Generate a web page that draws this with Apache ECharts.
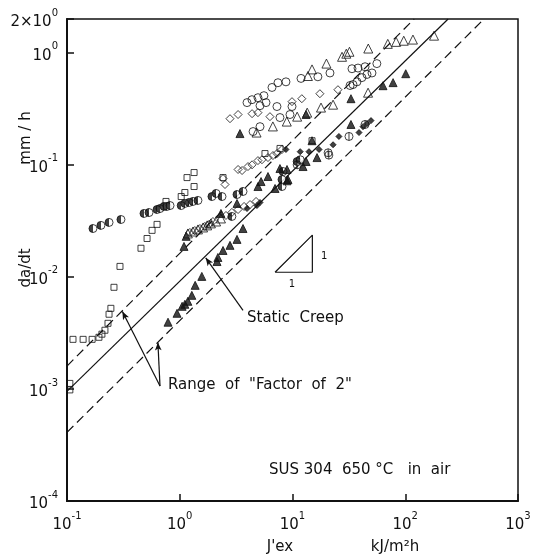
<!DOCTYPE html>
<html>
<head>
<meta charset="utf-8">
<title>da/dt vs J'ex - SUS 304</title>
<script src="https://cdn.jsdelivr.net/npm/echarts@6/dist/echarts.min.js"></script>
<style>
html, body { margin: 0; padding: 0; background: #fff; }
#chart { width: 536px; height: 557px; }
</style>
</head>
<body>
<div id="chart"></div>
<script>
// values: [J'ex (kJ/m2h), da/dt (mm/h)]
const openSquares = [
  [0.106, 0.00112], [0.106, 0.00098],
  [0.113, 0.00277], [0.139, 0.00277], [0.167, 0.00277], [0.192, 0.00289], [0.204, 0.00308],
  [0.217, 0.00334], [0.231, 0.00385], [0.236, 0.00464], [0.245, 0.00524], [0.261, 0.00807], [0.295, 0.0124],
  [0.453, 0.0180], [0.513, 0.0220], [0.568, 0.0260], [0.629, 0.0294], [0.755, 0.0471], [1.03, 0.0521],
  [1.11, 0.0566], [1.34, 0.064], [1.16, 0.0769], [1.34, 0.0853], [2.42, 0.0769], [5.7, 0.126],
  [7.75, 0.140], [14.9, 0.164]
];
const halfCircles = [
  [0.170, 0.0270], [0.200, 0.0288], [0.236, 0.0306], [0.301, 0.0325],
  [0.482, 0.0368], [0.534, 0.0375], [0.629, 0.0399], [0.668, 0.0407], [0.725, 0.0425], [0.771, 0.0425], [0.820, 0.0433],
  [1.03, 0.0433], [1.11, 0.0452], [1.21, 0.0461], [1.31, 0.0471], [1.45, 0.0481], [1.93, 0.0521], [2.10, 0.0555],
  [2.37, 0.0521], [3.22, 0.0543], [3.64, 0.0578],
  [2.90, 0.0346], [8.07, 0.064], [8.07, 0.0739], [8.24, 0.0871], [11.0, 0.107], [11.7, 0.111]
];
const openCircles = [
  [56, 0.80], [50.7, 0.66], [45.8, 0.64], [41.3, 0.60], [37.3, 0.55], [34.4, 0.52], [32.4, 0.51],
  [33.7, 0.72], [38.1, 0.73], [44, 0.75],
  [21.5, 0.66], [16.8, 0.61], [11.9, 0.59], [8.75, 0.55], [7.43, 0.54], [6.58, 0.49],
  [3.95, 0.359], [4.37, 0.381], [4.94, 0.397], [5.58, 0.414], [5.15, 0.337], [5.82, 0.359], [7.28, 0.331], [9.9, 0.331],
  [4.47, 0.198], [5.15, 0.219], [7.74, 0.264], [9.5, 0.281]
];
const openTriangles = [
  [180, 1.42], [117, 1.31], [97, 1.28], [83, 1.25], [70, 1.20], [47, 1.09], [32, 1.02], [30, 0.98],
  [27.5, 0.92], [20, 0.80], [14.9, 0.71], [13.7, 0.62],
  [22.9, 0.344], [17.9, 0.324], [13.5, 0.292], [11, 0.269], [8.9, 0.243], [46.8, 0.44], [6.7, 0.22], [4.8, 0.194],
  [1.18, 0.0244], [1.31, 0.0254], [1.45, 0.0265], [1.61, 0.0276], [1.75, 0.0288], [1.89, 0.0300], [2.10, 0.0312], [2.32, 0.0332]
];
const filledTriangles = [
  [0.787, 0.00394], [0.946, 0.00473], [1.05, 0.00546], [1.11, 0.00569], [1.18, 0.00605], [1.28, 0.00684],
  [1.37, 0.0084], [1.57, 0.0101],
  [2.14, 0.0137], [2.18, 0.0149], [2.42, 0.0172], [2.79, 0.0191], [3.22, 0.0216], [3.64, 0.0270],
  [1.09, 0.0187], [1.14, 0.0230], [2.32, 0.0368], [3.22, 0.0452], [3.42, 0.190],
  [4.94, 0.064], [5.26, 0.0709], [6.06, 0.0786], [7.74, 0.0926], [8.94, 0.0908], [8.94, 0.072], [7.0, 0.0615],
  [9.12, 0.0739], [12.4, 0.0965], [13.2, 0.107], [16.5, 0.116], [14.9, 0.164], [33.0, 0.229],
  [33.0, 0.389], [63.5, 0.508], [78, 0.541], [101, 0.650], [13.2, 0.281]
];
const openDiamonds = [
  [2.79, 0.258], [3.29, 0.281], [4.38, 0.286], [4.94, 0.292], [6.31, 0.269], [12.1, 0.389], [17.5, 0.431],
  [25.3, 0.468], [9.9, 0.366],
  [2.42, 0.0754], [2.52, 0.0667], [3.29, 0.0908], [3.57, 0.0889], [4.03, 0.0965], [4.38, 0.100], [4.94, 0.109],
  [5.36, 0.111], [6.06, 0.116], [6.71, 0.121], [7.28, 0.126], [8.07, 0.137],
  [1.23, 0.0249], [1.36, 0.0259], [1.51, 0.0270], [1.67, 0.0282], [1.82, 0.0294], [1.97, 0.0312],
  [2.57, 0.0353], [2.90, 0.0376], [3.29, 0.0399], [3.72, 0.0425], [4.20, 0.0442], [4.75, 0.0471]
];
const smallDiamonds = [
  [3.95, 0.0407], [4.84, 0.0433], [5.15, 0.0461],
  [8.75, 0.137], [11.7, 0.131], [14.0, 0.131], [17.2, 0.137], [22.9, 0.151], [25.8, 0.179],
  [38.9, 0.194], [42.2, 0.219], [45.8, 0.233], [49.7, 0.248]
];
const barCircles = [
  [20.7, 0.128], [21.0, 0.122], [31.7, 0.179], [44.0, 0.229], [11.0, 0.100]
];

// reference lines (end points as drawn)
const staticCreepLine = [[0.1, 0.00095], [240, 2]];
const upperFactorLine = [[0.1, 0.0016], [120, 2]];
const lowerFactorLine = [[0.1, 0.00041], [500, 2]];
// 1:1 slope triangle
const slopeTriangle = [[7, 0.011], [15, 0.011], [15, 0.0236], [7, 0.011]];
// leader lines: [tip, other end]
const creepLeader = [[1.7, 0.0148], [3.64, 0.00503]];
const rangeLeaders = [
  [[0.31, 0.0049], [0.668, 0.00106]],
  [[0.64, 0.0026], [0.668, 0.00106]]
];

const xTicks = [0.1, 1, 10, 100, 1000];
const yTicks = [0.0001, 0.001, 0.01, 0.1, 1, 2];

const FONT = 'DejaVu Sans';
const INK = '#111';

function powLabel(v) {
  if (Math.abs(v - 2) < 0.01) return '{b|2×10}{e|0}';
  const e = Math.round(Math.log10(v));
  return '{b|10}{e|' + e + '}';
}

const labelRich = {
  b: { fontSize: 15, fontFamily: FONT, color: INK, lineHeight: 22, verticalAlign: 'bottom' },
  e: { fontSize: 10, fontFamily: FONT, color: INK, lineHeight: 12, verticalAlign: 'top' }
};

const halfFill = {
  type: 'linear', x: 0, y: 0, x2: 1, y2: 0,
  colorStops: [
    { offset: 0, color: INK }, { offset: 0.5, color: INK },
    { offset: 0.5, color: '#fff' }, { offset: 1, color: '#fff' }
  ]
};

function scatter(name, data, symbol, size, color) {
  return {
    name: name,
    type: 'scatter',
    data: data,
    symbol: symbol,
    symbolSize: size,
    z: 5,
    itemStyle: { color: color, borderColor: INK, borderWidth: 1 },
    emphasis: { disabled: true }
  };
}

function line(name, data, dashed) {
  return {
    name: name,
    type: 'line',
    data: data,
    symbol: 'none',
    silent: true,
    z: 2,
    lineStyle: { color: INK, width: 1.2, type: dashed ? [9, 5] : 'solid' }
  };
}

const chart = echarts.init(document.getElementById('chart'));

chart.setOption({
  animation: false,
  backgroundColor: '#fff',
  grid: {
    left: 67, right: 18, top: 19, bottom: 56,
    show: true, borderColor: INK, borderWidth: 1.5
  },
  xAxis: {
    type: 'log', logBase: 10, min: 0.1, max: 1000,
    axisLine: { show: true, lineStyle: { color: INK, width: 2 } },
    axisTick: { inside: true, length: 7, lineStyle: { color: INK, width: 1.5 }, customValues: xTicks },
    axisLabel: { margin: 10, formatter: powLabel, rich: labelRich, customValues: xTicks },
    splitLine: { show: false },
    minorTick: { show: false }
  },
  yAxis: {
    type: 'log', logBase: 10, min: 0.0001, max: 2,
    axisLine: { show: true, lineStyle: { color: INK, width: 2 } },
    axisTick: { inside: true, length: 7, lineStyle: { color: INK, width: 1.5 }, customValues: yTicks },
    axisLabel: { margin: 9, formatter: powLabel, rich: labelRich, customValues: yTicks },
    splitLine: { show: false }
  },
  series: [
    line('Static Creep', staticCreepLine, false),
    line('Factor of 2 upper', upperFactorLine, true),
    line('Factor of 2 lower', lowerFactorLine, true),
    line('slope', slopeTriangle, false),
    {
      type: 'line', data: [], silent: true,
      markLine: {
        silent: true,
        symbol: ['arrow', 'none'],
        symbolSize: [5, 8],
        label: { show: false },
        lineStyle: { color: INK, width: 1.2, type: 'solid' },
        data: [
          [{ coord: creepLeader[0] }, { coord: creepLeader[1] }],
          [{ coord: rangeLeaders[0][0] }, { coord: rangeLeaders[0][1] }],
          [{ coord: rangeLeaders[1][0] }, { coord: rangeLeaders[1][1] }]
        ]
      }
    },
    scatter('open square', openSquares, 'rect', 6, 'transparent'),
    scatter('half circle', halfCircles, 'circle', 8, halfFill),
    scatter('open circle', openCircles, 'circle', 8, 'transparent'),
    scatter('open triangle', openTriangles, 'triangle', 9, 'transparent'),
    scatter('filled triangle', filledTriangles, 'triangle', 8, INK),
    scatter('open diamond', openDiamonds, 'diamond', 8, 'transparent'),
    scatter('small diamond', smallDiamonds, 'diamond', 6, INK),
    scatter('bar circle', barCircles, 'path://M10,0A10,10 0 1,1 10,20A10,10 0 1,1 10,0ZM10,0L10,20', 8, 'transparent')
  ],
  graphic: [
    { type: 'text', x: 247, y: 318, style: { text: 'Static  Creep', font: '15px "' + FONT + '"', fill: INK, textVerticalAlign: 'middle' } },
    { type: 'text', x: 168, y: 385, style: { text: 'Range  of  "Factor  of  2"', font: '15px "' + FONT + '"', fill: INK, textVerticalAlign: 'middle' } },
    { type: 'text', x: 269, y: 470, style: { text: 'SUS 304  650 °C   in  air', font: '15px "' + FONT + '"', fill: INK, textVerticalAlign: 'middle' } },
    { type: 'text', x: 321, y: 256, style: { text: '1', font: '10px "' + FONT + '"', fill: INK, textVerticalAlign: 'middle' } },
    { type: 'text', x: 292, y: 284, style: { text: '1', font: '10px "' + FONT + '"', fill: INK, textAlign: 'center', textVerticalAlign: 'middle' } },
    { type: 'text', x: 26, y: 138, rotation: Math.PI / 2, style: { text: 'mm / h', font: '15px "' + FONT + '"', fill: INK, textAlign: 'center', textVerticalAlign: 'middle' } },
    { type: 'text', x: 26, y: 268, rotation: Math.PI / 2, style: { text: 'da/dt', font: '15px "' + FONT + '"', fill: INK, textAlign: 'center', textVerticalAlign: 'middle' } },
    { type: 'text', x: 280, y: 547, style: { text: "J'ex", font: '15px "' + FONT + '"', fill: INK, textAlign: 'center', textVerticalAlign: 'middle' } },
    { type: 'text', x: 395, y: 547, style: { text: 'kJ/m²h', font: '15px "' + FONT + '"', fill: INK, textAlign: 'center', textVerticalAlign: 'middle' } }
  ]
});
</script>
</body>
</html>
